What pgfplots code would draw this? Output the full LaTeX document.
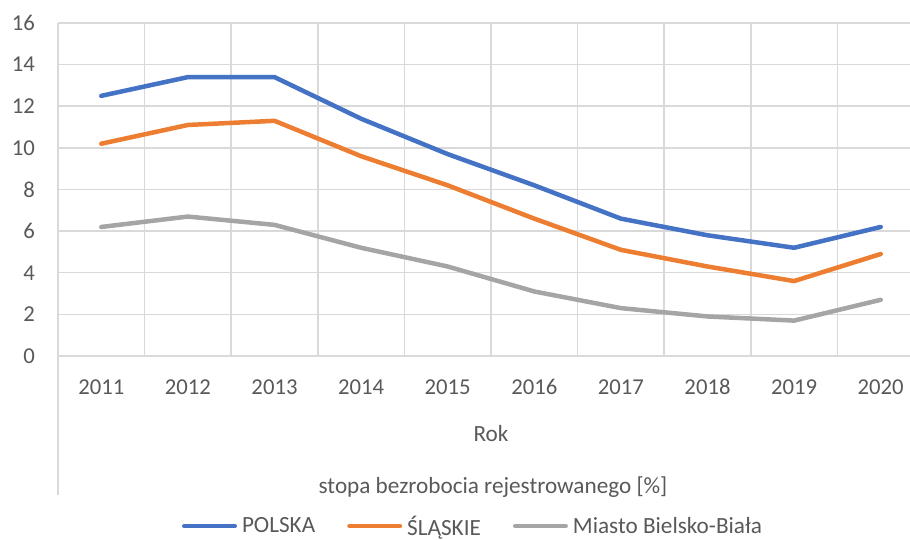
\documentclass[border=0pt]{standalone}
\usepackage{fontspec}
\setmainfont{Carlito}
\usepackage{pgfplots}
\pgfplotsset{compat=1.18}
\definecolor{cblue}{HTML}{4472C4}
\definecolor{corange}{HTML}{ED7D31}
\definecolor{cgray}{HTML}{A5A5A5}
\definecolor{cgrid}{HTML}{D9D9D9}
\definecolor{ctext}{HTML}{595959}
\newcommand{\cfont}{\fontsize{22.7bp}{27bp}\selectfont}
\newcommand{\lfont}{\fontsize{23.2bp}{27bp}\selectfont}
\begin{document}
\begin{tikzpicture}
\begin{axis}[
  at={(58bp,184bp)}, anchor=south west,
  scale only axis, width=866bp, height=333bp,
  xmin=-0.5, xmax=9.5, ymin=0, ymax=16,
  xtick={0,1,2,3,4,5,6,7,8,9},
  xticklabels={2011,2012,2013,2014,2015,2016,2017,2018,2019,2020},
  minor xtick={-0.5,0.5,1.5,2.5,3.5,4.5,5.5,6.5,7.5,8.5,9.5},
  ytick={0,2,4,6,8,10,12,14,16},
  xmajorgrids=false, xminorgrids=true, ymajorgrids=true,
  grid style={draw=cgrid, line width=1.5bp},
  minor grid style={draw=cgrid, line width=1.5bp},
  axis line style={draw=none},
  major tick length=0pt, minor tick length=0pt,
  /pgf/number format/assume math mode=true,
  tick label style={font=\cfont, text=ctext, inner sep=0pt},
  xticklabel style={anchor=center, yshift=-31bp},
  yticklabel style={anchor=east, xshift=-23bp},
  legend columns=3,
  legend cell align=left,
  legend style={draw=none, fill=none, inner sep=0pt, outer sep=0pt,
    font=\lfont, text=ctext,
    at={(axis description cs:0,0)}, anchor=south west,
    xshift=124bp, yshift=-180.5bp,
    nodes={inner sep=0pt},
    /tikz/every odd column/.append style={column sep=5bp},
    /tikz/every even column/.append style={column sep=32bp}},
  legend image code/.code={\draw[#1, line cap=round] (2.25bp,0bp) -- (52.75bp,0bp);},
]
\addplot[cblue, line width=4.5bp, line join=round, line cap=round] coordinates {
  (0,12.5) (1,13.4) (2,13.4) (3,11.4) (4,9.7) (5,8.2) (6,6.6) (7,5.8) (8,5.2) (9,6.2)};
\addlegendentry{POLSKA}
\addplot[corange, line width=4.5bp, line join=round, line cap=round] coordinates {
  (0,10.2) (1,11.1) (2,11.3) (3,9.6) (4,8.2) (5,6.6) (6,5.1) (7,4.3) (8,3.6) (9,4.9)};
\addlegendentry{ŚLĄSKIE}
\addplot[cgray, line width=4.5bp, line join=round, line cap=round] coordinates {
  (0,6.2) (1,6.7) (2,6.3) (3,5.2) (4,4.3) (5,3.1) (6,2.3) (7,1.9) (8,1.7) (9,2.7)};
\addlegendentry{Miasto Bielsko-Biała}
\end{axis}
\draw[cgrid, line width=1.5bp] (58bp,184bp) -- (58bp,45bp);
\node[anchor=base, font=\lfont, text=ctext, inner sep=0pt] at (491bp,98bp) {Rok};
\node[anchor=base, font=\lfont, text=ctext, inner sep=0pt] at (493bp,46bp) {stopa bezrobocia rejestrowanego [\%]};
\pgfresetboundingbox
\useasboundingbox (0bp,0bp) rectangle (910bp,540bp);
\end{tikzpicture}
\end{document}
